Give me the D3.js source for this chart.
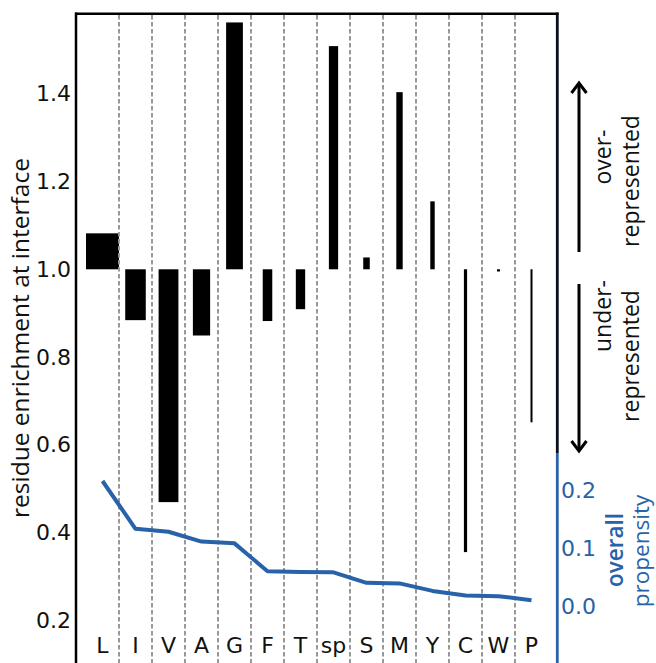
<!DOCTYPE html>
<html>
<head>
<meta charset="utf-8">
<script src="https://cdn.jsdelivr.net/npm/d3@7"></script>
<style>
html,body{margin:0;padding:0;background:#fff;}
svg{display:block;}
</style>
</head>
<body>
<svg id="chart" width="656" height="663"></svg>
<script>
// ---- data ----
const categories = ["L","I","V","A","G","F","T","sp","S","M","Y","C","W","P"];
const enrichment = [1.082,0.884,0.469,0.849,1.563,0.882,0.909,1.509,1.027,1.404,1.155,0.355,0.995,0.651];
const propensity = [0.2155,0.133,0.128,0.111,0.108,0.060,0.0586,0.058,0.040,0.039,0.026,0.018,0.017,0.010];
const leftTicks = [0.2,0.4,0.6,0.8,1.0,1.2,1.4];
const rightTicks = [0.0,0.1,0.2];
const baseline = 1.0;

const blue = "#2862a8";
const svg = d3.select("#chart");

const x = d3.scaleBand().domain(categories).range([86, 548]).padding(0);
const y = d3.scaleLinear().domain([0.1, 1.585]).range([663.9, 12.8]);
const y2 = d3.scaleLinear().domain([0, 0.2]).range([606, 490]);
const w = d3.scaleLinear().domain([0, 0.2155]).range([0.5, 33]);

const cx = c => x(c) + x.bandwidth() / 2;

// bars
svg.append("g").selectAll("rect").data(categories).join("rect")
  .attr("x", (c, i) => cx(c) - w(propensity[i]) / 2)
  .attr("width", (c, i) => w(propensity[i]))
  .attr("y", (c, i) => Math.min(y(enrichment[i]), y(baseline)))
  .attr("height", (c, i) => Math.abs(y(enrichment[i]) - y(baseline)))
  .attr("fill", "#000");

// dashed dividers
svg.append("g").selectAll("line").data(categories.slice(1)).join("line")
  .attr("x1", c => x(c)).attr("x2", c => x(c))
  .attr("y1", 15).attr("y2", 663)
  .attr("stroke", "#999").attr("stroke-width", 2)
  .attr("stroke-dasharray", "4.5,2.5");

// borders
svg.append("line").attr("x1", 76).attr("x2", 76).attr("y1", 12.5).attr("y2", 663)
  .attr("stroke", "#000").attr("stroke-width", 2.5);
svg.append("line").attr("x1", 75).attr("x2", 558.5).attr("y1", 13.7).attr("y2", 13.7)
  .attr("stroke", "#000").attr("stroke-width", 2.5);
svg.append("line").attr("x1", 557.3).attr("x2", 557.3).attr("y1", 12.5).attr("y2", 453)
  .attr("stroke", "#0a0f1a").attr("stroke-width", 2.8);
svg.append("line").attr("x1", 557.3).attr("x2", 557.3).attr("y1", 453).attr("y2", 663)
  .attr("stroke", blue).attr("stroke-width", 2.8);

const tickFont = "'DejaVu Sans', Verdana, sans-serif";
// left axis labels
const leftAxis = d3.axisLeft(y).tickValues(leftTicks).tickFormat(d3.format(".1f")).tickSize(0).tickPadding(0);
const gL = svg.append("g").attr("transform", "translate(71,0)").call(leftAxis);
gL.select(".domain").remove();
gL.selectAll("text").attr("font-family", tickFont).attr("font-size", 22).attr("fill", "#111");

// right axis labels
const rightAxis = d3.axisRight(y2).tickValues(rightTicks).tickFormat(d3.format(".1f")).tickSize(0).tickPadding(0);
const gR = svg.append("g").attr("transform", "translate(561,0)").call(rightAxis);
gR.select(".domain").remove();
gR.selectAll("text").attr("font-family", tickFont).attr("font-size", 22).attr("fill", blue);

// category labels
svg.append("g").selectAll("text").data(categories).join("text")
  .attr("x", c => cx(c)).attr("y", 653)
  .attr("text-anchor", "middle")
  .attr("font-family", tickFont).attr("font-size", 22).attr("fill", "#111")
  .text(c => c);

// propensity line
const line = d3.line().x((d, i) => cx(categories[i])).y(d => y2(d));
svg.append("path").datum(propensity).attr("d", line)
  .attr("fill", "none").attr("stroke", blue).attr("stroke-width", 4).attr("stroke-linejoin", "round");

// y-axis title
const labFont = "'Open Sans', Lato, sans-serif";
svg.append("text").attr("transform", "translate(29,338) rotate(-90)")
  .attr("text-anchor", "middle").attr("font-family", labFont).attr("font-size", 24.5).attr("fill", "#111")
  .text("residue enrichment at interface");

// right axis title
svg.append("text").attr("transform", "translate(623,550) rotate(-90)")
  .attr("text-anchor", "middle").attr("font-family", labFont).attr("font-size", 22.5).attr("font-weight", 600).attr("fill", blue)
  .text("overall");
svg.append("text").attr("transform", "translate(648.5,551) rotate(-90)")
  .attr("text-anchor", "middle").attr("font-family", labFont).attr("font-size", 22.5).attr("fill", blue)
  .text("propensity");

// arrows
function arrow(x0, yTail, yTip) {
  const dir = yTip < yTail ? 1 : -1;
  svg.append("line").attr("x1", x0).attr("x2", x0).attr("y1", yTail).attr("y2", yTip + dir * 1)
    .attr("stroke", "#000").attr("stroke-width", 3);
  svg.append("path")
    .attr("d", `M${x0 - 7.5},${yTip + dir * 10} L${x0},${yTip} L${x0 + 7.5},${yTip + dir * 10}`)
    .attr("fill", "none").attr("stroke", "#000").attr("stroke-width", 3);
}
arrow(579, 252, 83);
arrow(579, 284, 451);

// annotation texts
function rot(xc, yc, t) {
  svg.append("text").attr("transform", `translate(${xc},${yc}) rotate(-90)`)
    .attr("text-anchor", "middle").attr("font-family", labFont).attr("font-size", 23).attr("fill", "#111")
    .text(t);
}
rot(611, 157, "over-");
rot(639, 181, "represented");
rot(611, 316, "under-");
rot(639, 356, "represented");
</script>
</body>
</html>
